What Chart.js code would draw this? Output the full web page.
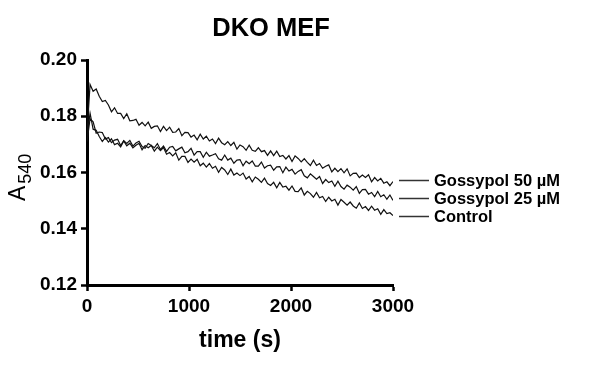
<!DOCTYPE html>
<html>
<head>
<meta charset="utf-8">
<script src="https://cdn.jsdelivr.net/npm/chart.js@4.4.1/dist/chart.umd.min.js"></script>
<style>
  body { margin: 0; background: #fff; }
  canvas { display: block; }
</style>
</head>
<body>
<canvas id="absChart" width="599" height="366"></canvas>
<script>
// time points (s)
const times = [0,30,60,90,120,150,180,210,240,270,300,330,360,390,420,450,480,510,540,570,
  600,630,660,690,720,750,780,810,840,870,900,930,960,990,1020,1050,1080,1110,1140,1170,
  1200,1230,1260,1290,1320,1350,1380,1410,1440,1470,1500,1530,1560,1590,1620,1650,1680,1710,1740,1770,
  1800,1830,1860,1890,1920,1950,1980,2010,2040,2070,2100,2130,2160,2190,2220,2250,2280,2310,2340,2370,
  2400,2430,2460,2490,2520,2550,2580,2610,2640,2670,2700,2730,2760,2790,2820,2850,2880,2910,2940,2970,3000];

const gossypol50 = [0.1740,0.1913,0.1889,0.1897,0.1871,0.1852,0.1856,0.1840,0.1816,0.1830,
  0.1810,0.1810,0.1792,0.1809,0.1784,0.1785,0.1789,0.1768,0.1778,0.1766,
  0.1779,0.1757,0.1764,0.1766,0.1746,0.1764,0.1749,0.1761,0.1743,0.1744,
  0.1756,0.1731,0.1743,0.1742,0.1726,0.1733,0.1716,0.1736,0.1719,0.1729,
  0.1712,0.1719,0.1703,0.1722,0.1706,0.1699,0.1710,0.1696,0.1707,0.1683,
  0.1698,0.1692,0.1679,0.1697,0.1679,0.1675,0.1688,0.1674,0.1678,0.1661,
  0.1677,0.1660,0.1676,0.1657,0.1661,0.1648,0.1660,0.1639,0.1659,0.1650,
  0.1638,0.1649,0.1636,0.1625,0.1644,0.1625,0.1632,0.1615,0.1622,0.1627,
  0.1602,0.1615,0.1603,0.1614,0.1599,0.1613,0.1588,0.1597,0.1598,0.1582,
  0.1591,0.1582,0.1592,0.1567,0.1582,0.1570,0.1579,0.1562,0.1567,0.1553,0.1568];

const gossypol25 = [0.1710,0.1791,0.1780,0.1740,0.1744,0.1742,0.1719,0.1724,0.1706,0.1715,
  0.1718,0.1696,0.1713,0.1703,0.1714,0.1694,0.1705,0.1711,0.1692,0.1686,
  0.1703,0.1696,0.1688,0.1703,0.1682,0.1694,0.1675,0.1690,0.1693,0.1677,
  0.1684,0.1690,0.1670,0.1674,0.1686,0.1662,0.1674,0.1674,0.1654,0.1672,
  0.1658,0.1662,0.1667,0.1649,0.1644,0.1662,0.1644,0.1651,0.1633,0.1644,
  0.1646,0.1624,0.1640,0.1631,0.1641,0.1623,0.1623,0.1637,0.1616,0.1624,
  0.1626,0.1608,0.1620,0.1621,0.1599,0.1619,0.1605,0.1611,0.1594,0.1604,
  0.1610,0.1588,0.1581,0.1595,0.1586,0.1576,0.1586,0.1561,0.1575,0.1564,
  0.1570,0.1551,0.1569,0.1550,0.1541,0.1555,0.1548,0.1537,0.1550,0.1526,
  0.1539,0.1540,0.1523,0.1529,0.1514,0.1533,0.1514,0.1521,0.1505,0.1520,0.1501];

const control = [0.1730,0.1811,0.1754,0.1750,0.1728,0.1710,0.1724,0.1708,0.1720,0.1699,
  0.1704,0.1691,0.1712,0.1695,0.1704,0.1688,0.1697,0.1704,0.1681,0.1696,
  0.1688,0.1696,0.1676,0.1690,0.1678,0.1689,0.1665,0.1671,0.1659,0.1670,
  0.1644,0.1657,0.1657,0.1636,0.1648,0.1637,0.1647,0.1624,0.1633,0.1619,
  0.1632,0.1615,0.1622,0.1601,0.1618,0.1609,0.1593,0.1612,0.1591,0.1598,
  0.1589,0.1598,0.1577,0.1586,0.1567,0.1584,0.1576,0.1565,0.1580,0.1561,
  0.1554,0.1565,0.1546,0.1565,0.1548,0.1551,0.1537,0.1552,0.1533,0.1532,
  0.1545,0.1520,0.1533,0.1525,0.1512,0.1529,0.1510,0.1515,0.1497,0.1512,
  0.1499,0.1505,0.1484,0.1504,0.1494,0.1484,0.1495,0.1481,0.1473,0.1492,
  0.1472,0.1479,0.1465,0.1480,0.1466,0.1471,0.1451,0.1468,0.1454,0.1457,0.1447];

const seriesNames = ['Gossypol 50 \u00b5M', 'Gossypol 25 \u00b5M', 'Control'];
const labelAt = [0.1573, 0.1509, 0.1445];   // where the right-hand labels sit (A540)

const FONT = "'Liberation Sans', Arial, sans-serif";

function toPoints(ys) {
  return times.map((t, i) => ({ x: t, y: ys[i] }));
}

// title, axis titles and the labels on the right
const extras = {
  id: 'extras',
  afterDraw(chart) {
    const c = chart.ctx;
    const y = chart.scales.y;
    const area = chart.chartArea;
    c.save();
    c.fillStyle = '#000';

    c.font = 'bold 25.5px ' + FONT;
    c.textAlign = 'center';
    c.textBaseline = 'middle';
    c.fillText('DKO MEF', 271, 29);

    c.font = 'bold 23px ' + FONT;
    c.fillText('time (s)', (area.left + area.right) / 2, 341);

    // A540, rotated
    c.save();
    c.translate(25, 201);
    c.rotate(-Math.PI / 2);
    c.textAlign = 'left';
    c.textBaseline = 'alphabetic';
    c.font = '23px ' + FONT;
    c.fillText('A', 0, 0);
    const w = c.measureText('A').width;
    c.font = '18px ' + FONT;
    c.fillText('540', w + 2, 6);
    c.restore();

    c.strokeStyle = '#333';
    c.lineWidth = 1.5;
    c.font = 'bold 16.5px ' + FONT;
    c.textAlign = 'left';
    c.textBaseline = 'middle';
    seriesNames.forEach((name, i) => {
      const py = Math.round(y.getPixelForValue(labelAt[i])) + 0.5;
      c.beginPath();
      c.moveTo(399, py);
      c.lineTo(429, py);
      c.stroke();
      c.fillText(name, 434, py + 1);
    });
    c.restore();
  }
};

const lineStyle = {
  borderColor: '#111',
  borderWidth: 1.2,
  pointRadius: 0,
  tension: 0,
  fill: false
};

new Chart(document.getElementById('absChart'), {
  type: 'line',
  data: {
    datasets: [
      { label: seriesNames[0], data: toPoints(gossypol50), ...lineStyle },
      { label: seriesNames[1], data: toPoints(gossypol25), ...lineStyle },
      { label: seriesNames[2], data: toPoints(control), ...lineStyle }
    ]
  },
  options: {
    responsive: false,
    animation: false,
    layout: { padding: { left: 0, top: 60, right: 206, bottom: 0 } },
    plugins: {
      legend: { display: false },
      title: { display: false },
      tooltip: { enabled: false }
    },
    scales: {
      x: {
        type: 'linear',
        min: 0,
        max: 3000,
        afterFit(s) { s.height = 81; },
        border: { display: true, color: '#000', width: 3 },
        grid: { drawOnChartArea: false, drawTicks: true, tickLength: 6, tickWidth: 2.5, tickColor: '#000' },
        ticks: {
          stepSize: 1000,
          color: '#000',
          padding: 4,
          maxRotation: 0,
          font: { family: FONT, size: 19, weight: 'bold' },
          callback: v => String(v)
        }
      },
      y: {
        min: 0.12,
        max: 0.20,
        afterFit(s) { s.width = 87; },
        border: { display: true, color: '#000', width: 3 },
        grid: { drawOnChartArea: false, drawTicks: true, tickLength: 6, tickWidth: 2.5, tickColor: '#000' },
        ticks: {
          stepSize: 0.02,
          color: '#000',
          padding: 4,
          font: { family: FONT, size: 19, weight: 'bold' },
          callback: v => v.toFixed(2)
        }
      }
    }
  },
  plugins: [extras]
});
</script>
</body>
</html>
